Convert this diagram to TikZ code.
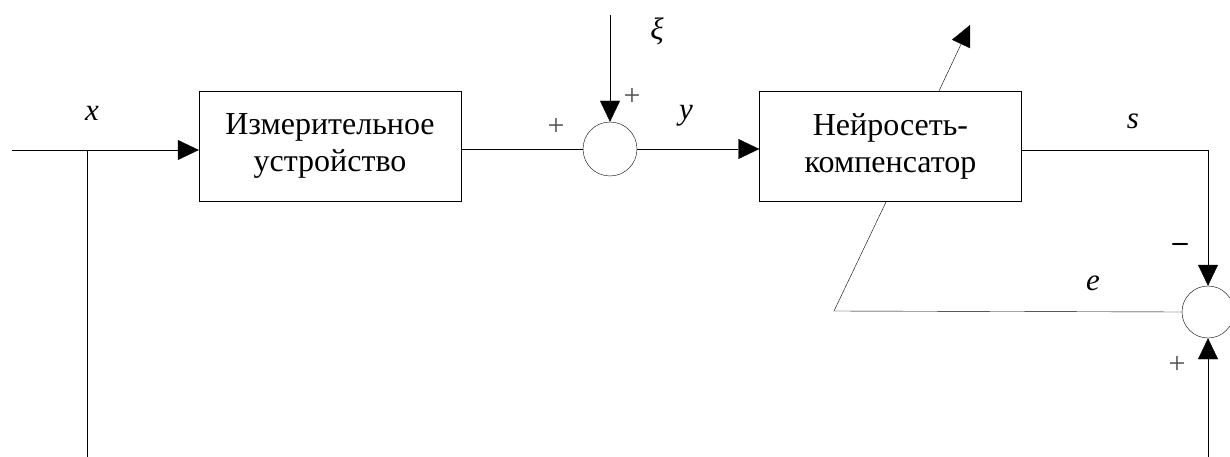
\documentclass[tikz,border=0pt]{standalone}
\usepackage{fontspec}
\setmainfont{Liberation Serif}
\usetikzlibrary{arrows.meta,calc}
\tikzset{
  x=1pt,y=-1pt,
  line width=2.4pt,
  arr/.style={-{Triangle[length=21pt,width=20pt]}},
  blk/.style={draw,rectangle,minimum width=262pt,minimum height=110pt,align=center,
    font=\fontsize{32}{37}\selectfont,inner sep=0pt},
  sum/.style={draw,circle,minimum size=54pt,inner sep=0pt},
  lbl/.style={font=\fontsize{31}{34}\selectfont\itshape,inner sep=0pt},
  sgn/.style={font=\fontsize{30}{34}\selectfont,text=black!70,inner sep=0pt},
}
\begin{document}
\begin{tikzpicture}
\useasboundingbox (0,0) rectangle (1230,457);
\clip (0,0) rectangle (1230,457);
\node[blk] (m) at (330,146) {Измерительное\\устройство};
\node[blk] (n) at (890.5,146.5) {Нейросеть-\\компенсатор};
\node[sum] (s1) at (610,149) {};
\node[sum,minimum size=52pt] (s2) at (1208,312) {};
\coordinate (in) at (12,150);
\coordinate (br) at (87,150);
\coordinate (brd) at (87,457);
\coordinate (xi) at (610,15);
\coordinate (ntop) at (939,91);
\coordinate (nout) at (970,25);
\coordinate (corner) at (1208,150);
\coordinate (bot) at (1208,457);
\coordinate (eleft) at (834,311);
\coordinate (eup) at (886,202);
% connectors
\draw[arr] (in) -- (m.west|-br);
\draw (br) -- (brd);
\draw (m.east|-s1) -- (s1.west);
\draw[arr] (xi) -- (s1.north);
\draw[arr] (s1.east) -- (n.west|-s1);
\draw[arr] (ntop) -- (nout);
\draw[arr] (n.east|-corner) -- (corner) -- (s2.north);
\draw[arr] (bot) -- (s2.south);
\draw (s2.west) -- (eleft) -- (eup);
% labels
\node[lbl] (lx) at (92,113) {x};
\node[lbl] (lxi) at (657,31) {ξ};
\node[lbl] (ly) at (686,116) {y};
\node[lbl] (ls) at (1133,121) {s};
\node[lbl] (le) at (1093,283) {e};
\node[sgn] (p1) at (632,97) {+};
\node[sgn] (p2) at (556,127) {+};
\node[sgn] (p3) at (1177,365) {+};
\node[font=\fontsize{30}{34}\selectfont\bfseries,inner sep=0pt] (mi) at (1180,247) {–};
\end{tikzpicture}
\end{document}
